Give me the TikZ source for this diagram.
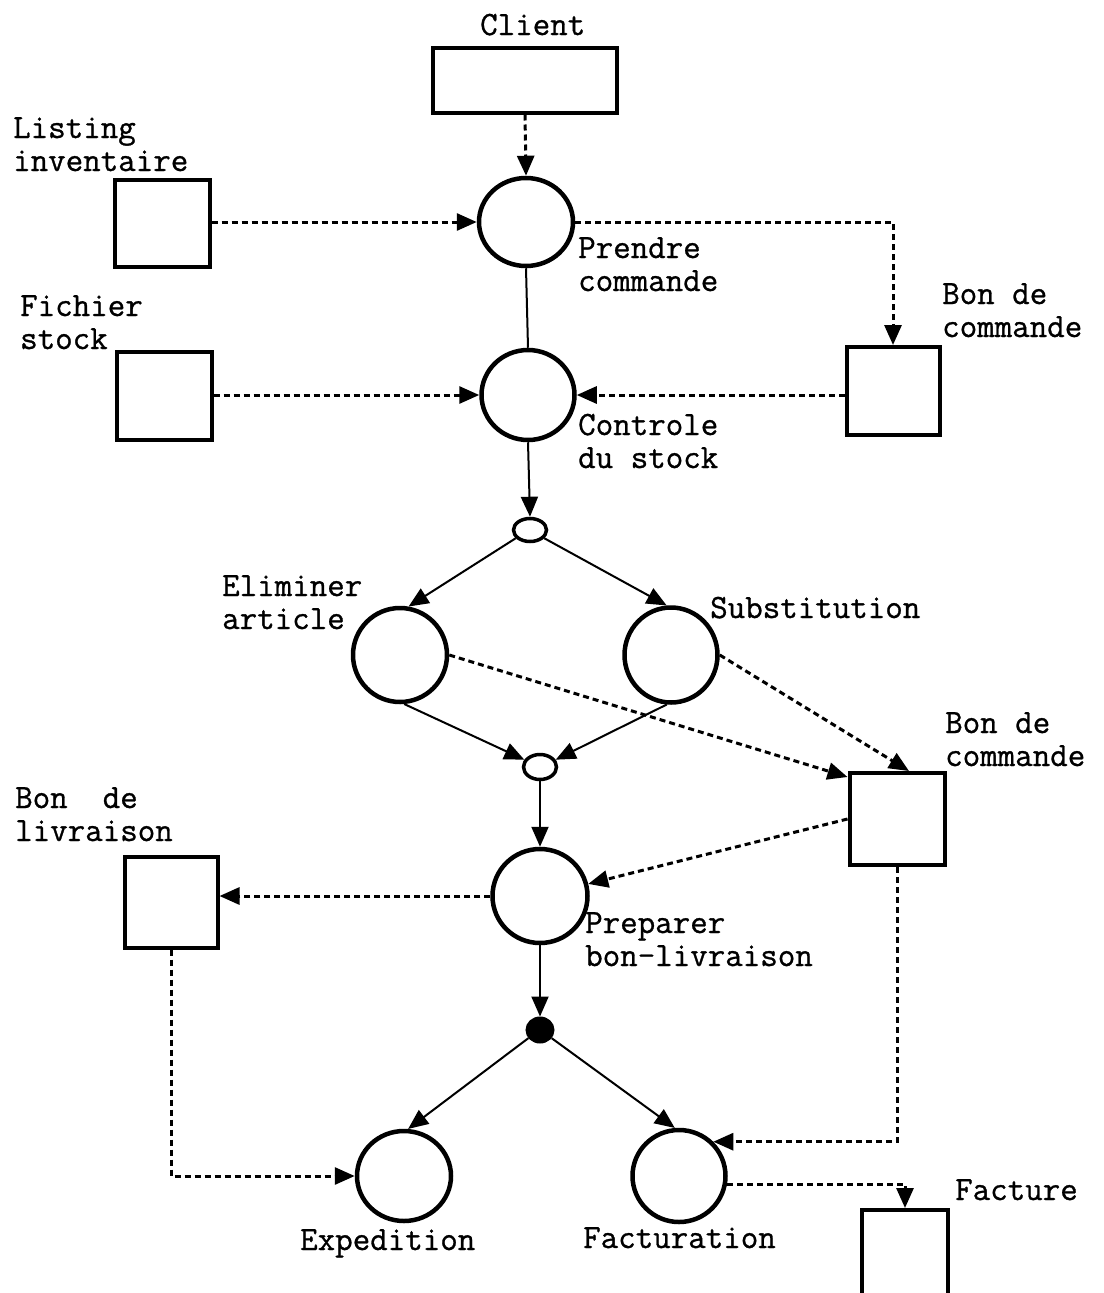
\documentclass[tikz,border=0pt]{standalone}
\usepackage{fontspec}
\newfontfamily\labelfont[FakeBold=0.9]{Latin Modern Mono}
\usetikzlibrary{arrows.meta,shapes.geometric,calc}
\begin{document}
\begin{tikzpicture}[x=1pt,y=-1pt,
  store/.style={draw, rectangle, line width=4pt, inner sep=0pt},
  proc/.style={draw, ellipse, line width=4.5pt, inner sep=0pt},
  junc/.style={draw, ellipse, line width=3.5pt, inner sep=0pt, minimum width=33pt, minimum height=23pt},
  tip/.style={-{Triangle[length=20pt,width=17pt]}},
  flow/.style={line width=2pt, tip},
  plain/.style={line width=2pt},
  data/.style={line width=3pt, dash pattern=on 6pt off 4pt, tip},
  lbl/.style={font=\labelfont\fontsize{34}{33}\selectfont, anchor=base west, align=left, inner sep=0pt}]
\useasboundingbox[fill=white] (0,0) rectangle (1103,1293);

% stores
\node[store, minimum width=184pt, minimum height=65pt] (client) at (525,80) {};
\node[store, minimum width=95pt, minimum height=87pt] (listing) at (162,223) {};
\node[store, minimum width=95pt, minimum height=88pt] (fichier) at (164,396) {};
\node[store, minimum width=93pt, minimum height=88pt] (bc1) at (893,391) {};
\node[store, minimum width=95pt, minimum height=92pt] (bc2) at (897,819) {};
\node[store, minimum width=93pt, minimum height=91pt] (bliv) at (171,902) {};
\node[store, minimum width=86pt, minimum height=100pt] (facture) at (905,1260) {};

% processes
\node[proc, minimum width=94pt, minimum height=88pt] (prendre) at (526,222) {};
\node[proc, minimum width=93pt, minimum height=90pt] (controle) at (528,395) {};
\node[junc] (s1) at (530,530) {};
\node[proc, minimum width=94pt, minimum height=94pt] (elim) at (400,655) {};
\node[proc, minimum width=93pt, minimum height=95pt] (subst) at (671,655) {};
\node[junc, minimum height=25pt] (s2) at (540,767) {};
\node[proc, minimum width=95pt, minimum height=94pt] (prep) at (540,896) {};
\node[draw, fill=black, ellipse, line width=2pt, inner sep=0pt, minimum width=27pt, minimum height=25pt] (dot) at (540,1030) {};
\node[proc, minimum width=94pt, minimum height=90pt] (exped) at (404,1176) {};
\node[proc, minimum width=93pt, minimum height=92pt] (fact) at (679,1176) {};

% labels (base = baseline of last line)
\node[lbl] (lclient) at (480,35) {Client};
\node[lbl] (llisting) at (13,171) {Listing\\inventaire};
\node[lbl] (lprendre) at (578,291) {Prendre\\commande};
\node[lbl] (lfichier) at (20,349) {Fichier\\stock};
\node[lbl] (lbc1) at (942,337) {Bon de\\commande};
\node[lbl] (lcontrole) at (578,468) {Controle\\du stock};
\node[lbl] (lelim) at (222,629) {Eliminer\\article};
\node[lbl] (lsubst) at (710,618) {Substitution};
\node[lbl] (lbc2) at (945,766) {Bon de\\commande};
\node[lbl] (lbliv) at (15,841) {Bon\ \ de\\livraison};
\node[lbl] (lprep) at (585,966) {Preparer\\bon-livraison};
\node[lbl] (lexped) at (300,1250) {Expedition};
\node[lbl] (lfact) at (583,1248) {Facturation};
\node[lbl] (lfacture) at (955,1200) {Facture};

% data flows (dashed)
\draw[data] (client.south) -- (prendre.north);
\draw[data] (listing.east |- prendre.west) -- (prendre.west);
\draw[data] (fichier.east |- controle.west) -- (controle.west);
\draw[data] (prendre.east) -| (bc1.north);
\draw[data] (bc1.west |- controle.east) -- (controle.east);
\draw[data] (elim.east) -- ($(bc2.north west)+(0,6)$);
\draw[data] (subst.east) -- ($(bc2.north)+(12,0)$);
\draw[data] (bc2.west) -- (prep);
\draw[data] (prep.west) -- (bliv.east |- prep.west);
\draw[data] (bliv.south) |- (exped.west);
\draw[data] (bc2.south) |- (fact.45);
\draw[data] (fact.-10) -| (facture.north);

% control flows (solid)
\draw[plain] (prendre.south) -- (controle.north);
\draw[flow] (controle.south) -- (s1.north);
\draw[flow] (s1.210) -- (elim.80);
\draw[flow] (s1.-30) -- (subst.95);
\draw[flow] (elim.-85) -- (s2.155);
\draw[flow] (subst.-95) -- (s2.25);
\draw[flow] (s2.south) -- (prep.north);
\draw[flow] (prep.south) -- (dot.north);
\draw[flow] (dot.215) -- (exped.85);
\draw[flow] (dot.-35) -- (fact.95);
\end{tikzpicture}
\end{document}
